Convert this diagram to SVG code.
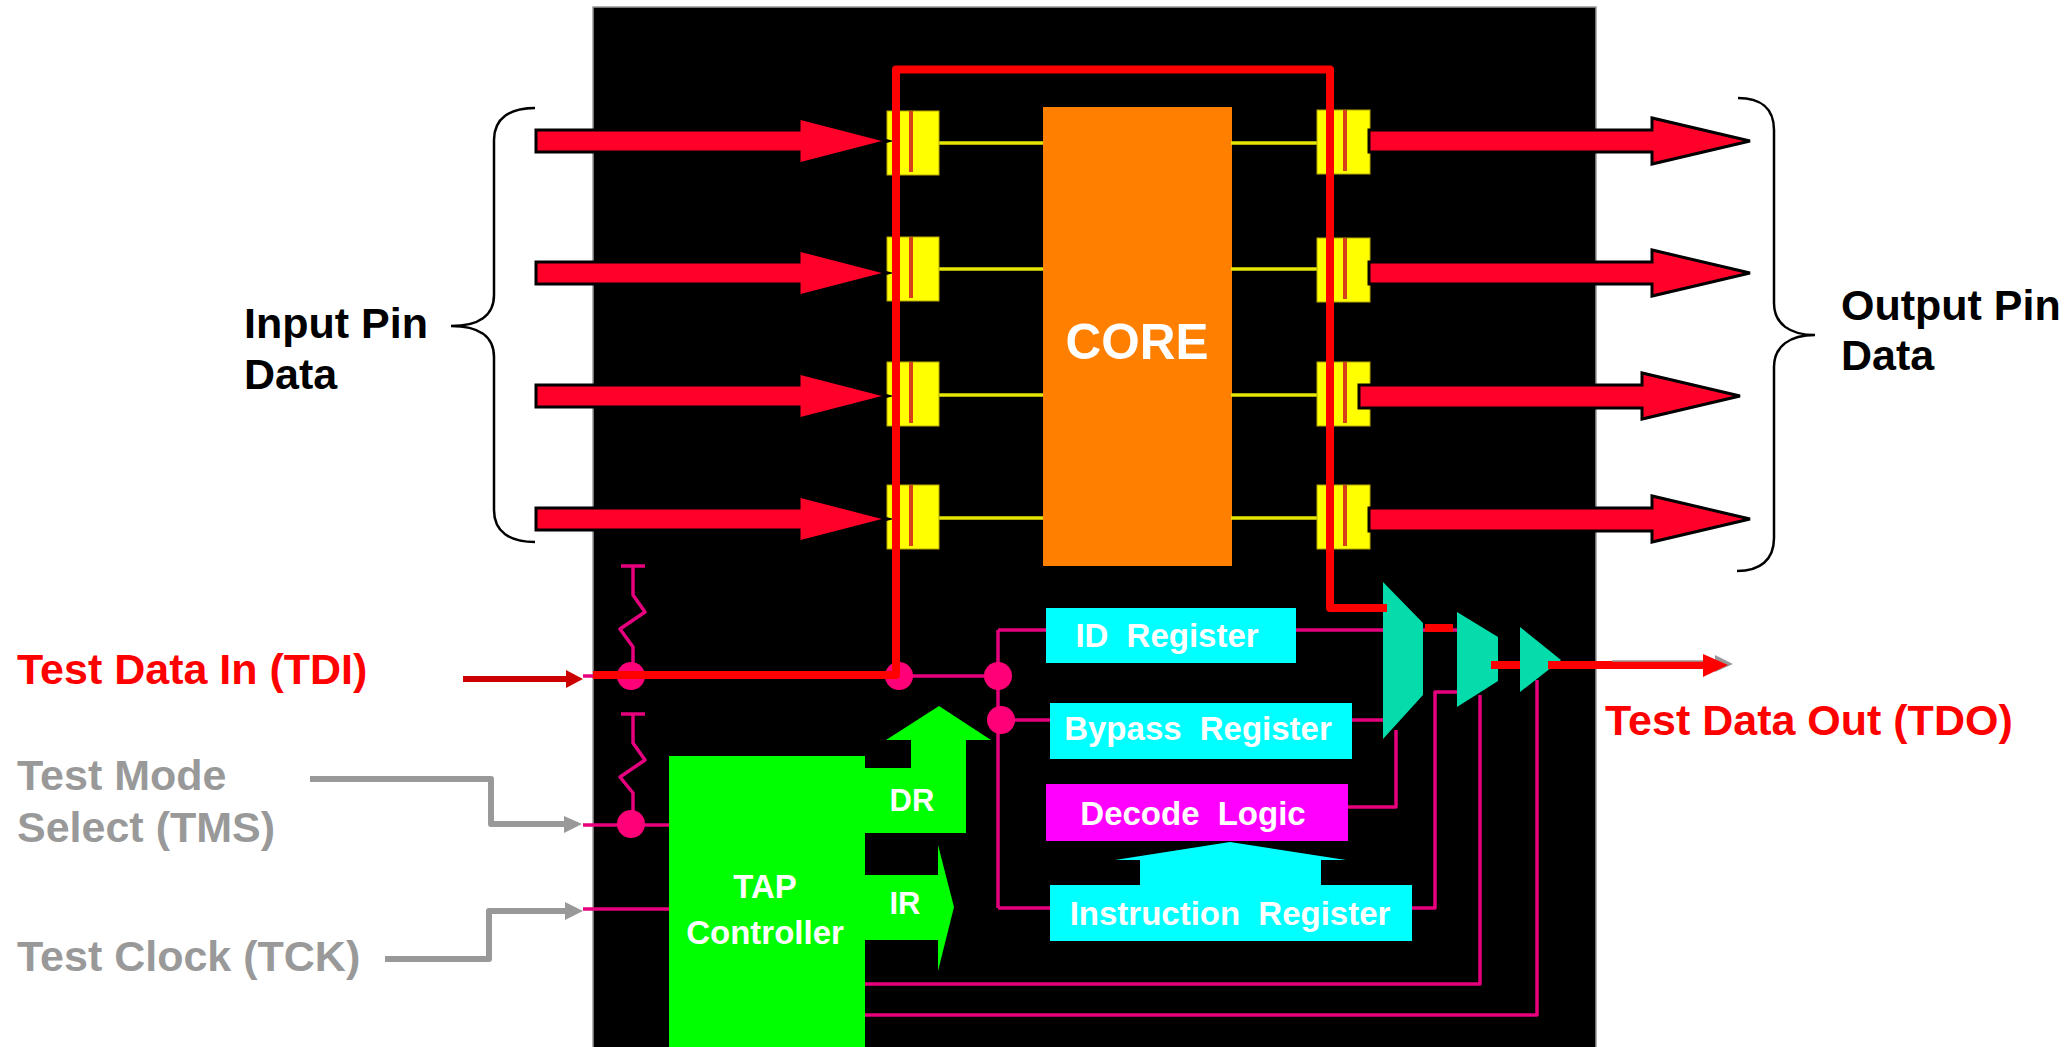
<svg xmlns="http://www.w3.org/2000/svg" width="2068" height="1047" viewBox="0 0 2068 1047">
<defs>
<style>
text{font-family:"Liberation Sans",Arial,sans-serif;font-weight:bold}
.lbl{font-size:43px}
.w{fill:#fff;text-anchor:middle}
.reg{font-size:33px;word-spacing:9px}
.pin{fill:#ff0;stroke:#b8a800;stroke-width:1}
.stripe{fill:#d8401c}
.y{stroke:#e6e600;stroke-width:3.5;fill:none}
.p{stroke:#e6007e;stroke-width:3.5;fill:none;stroke-linejoin:round}
.dot{fill:#ff0078}
.arr{fill:#ff0029;stroke:#000;stroke-width:3}
.scan{stroke:#f00;stroke-width:8;fill:none;stroke-linejoin:round}
.g{stroke:#999;stroke-width:6;fill:none;stroke-linejoin:round}
.br{stroke:#000;stroke-width:2.5;fill:none}
.cy{fill:#0ff}
.grn{fill:#0f0}
.mux{fill:#04dcac}
</style>
<g id="inArrow"><polygon class="arr" points="536,-11 799,-11 799,-23 888,0 799,23 799,11 536,11"/></g>
</defs>
<rect width="2068" height="1047" fill="#fff"/>
<rect id="chip" x="593" y="7" width="1003" height="1042" fill="#000" stroke="#999" stroke-width="1.5"/>

<g id="core"><rect x="1043" y="107" width="189" height="459" fill="#ff8000"/><text class="w" x="1137" y="359" font-size="49.500">CORE</text></g>

<g id="connectors">
<path class="y" d="M939 143H1043M939 269H1043M939 395H1043M939 518H1043M1231 143H1317M1231 269H1317M1231 395H1317M1231 518H1317"/>
<path class="p" d="M583 676H998M998 630V908M998 630H1046M1001 720H1050M998 908H1050M1296 630H1383M1352 720H1383M1423 630H1457M1491 665H1520M1348 807H1396V730M1412 908H1435V692H1457M865 984H1480V695M865 1015H1537V680"/>
<path class="p" d="M583 825H669M583 909H669"/>
<path class="p" d="M621 566H645M633 566V595L645 612L620 629L633 647V676"/>
<path class="p" d="M621 714H645M633 714V743L645 760L620 777L633 793V825"/>
</g>

<g id="pins">
<g id="pin-in-1"><rect class="pin" x="887" y="111" width="52" height="64"/><rect class="stripe" x="909" y="111" width="4" height="61"/></g>
<g id="pin-in-2"><rect class="pin" x="887" y="237" width="52" height="64"/><rect class="stripe" x="909" y="237" width="4" height="61"/></g>
<g id="pin-in-3"><rect class="pin" x="887" y="362" width="52" height="64"/><rect class="stripe" x="909" y="362" width="4" height="61"/></g>
<g id="pin-in-4"><rect class="pin" x="887" y="485" width="52" height="64"/><rect class="stripe" x="909" y="485" width="4" height="61"/></g>
<g id="pin-out-1"><rect class="pin" x="1317" y="110" width="53" height="64"/><rect class="stripe" x="1343" y="110" width="4" height="61"/></g>
<g id="pin-out-2"><rect class="pin" x="1317" y="238" width="53" height="64"/><rect class="stripe" x="1343" y="238" width="4" height="61"/></g>
<g id="pin-out-3"><rect class="pin" x="1317" y="362" width="53" height="64"/><rect class="stripe" x="1343" y="362" width="4" height="61"/></g>
<g id="pin-out-4"><rect class="pin" x="1317" y="485" width="53" height="64"/><rect class="stripe" x="1343" y="485" width="4" height="61"/></g>
</g>

<g id="junctions">
<circle class="dot" cx="631" cy="676" r="14"/><circle class="dot" cx="631" cy="824" r="14"/><circle class="dot" cx="899" cy="676" r="14"/><circle class="dot" cx="998" cy="676" r="14"/><circle class="dot" cx="1001" cy="720" r="14"/>
</g>

<g id="id-register"><rect class="cy" x="1046" y="608" width="250" height="55"/><text class="w reg" x="1167" y="647">ID Register</text></g>
<g id="bypass-register"><rect class="cy" x="1050" y="703" width="302" height="56"/><text class="w reg" x="1198" y="739.500">Bypass Register</text></g>
<g id="decode-logic"><rect x="1046" y="784" width="302" height="57" fill="#f0f"/><text class="w reg" x="1193" y="825">Decode Logic</text></g>
<g id="instruction-register"><polygon class="cy" points="1140,885 1140,860 1115,860 1230,842 1346,860 1321,860 1321,885"/><rect class="cy" x="1050" y="885" width="362" height="56"/><text class="w reg" x="1230" y="925">Instruction Register</text></g>

<g id="tap-controller">
<rect class="grn" x="669" y="756" width="196" height="291"/>
<polygon class="grn" points="865,768 911,768 911,740 886,740 939,706 991,740 966,740 966,833 865,833"/>
<polygon class="grn" points="865,875 938,875 938,845 954,907 938,971 938,940 865,940"/>
<text class="w" x="765" y="898" font-size="33">TAP</text><text class="w" x="765" y="944" font-size="33">Controller</text>
<text class="w" x="912" y="811" font-size="31">DR</text><text class="w" x="905" y="914" font-size="31">IR</text>
</g>

<g id="mux-1"><polygon class="mux" points="1383,582 1423,623 1423,695 1383,739"/></g>
<g id="mux-2"><polygon class="mux" points="1457,612 1498,637 1498,681 1457,707"/></g>
<g id="mux-3"><polygon class="mux" points="1520,627 1561,660 1520,692"/></g>

<g id="data-arrows">
<use href="#inArrow" y="141"/><use href="#inArrow" y="273"/><use href="#inArrow" y="396"/><use href="#inArrow" y="519"/>
<polygon class="arr" points="1369,130 1652,130 1652,118 1750,141 1652,164 1652,152 1369,152"/>
<polygon class="arr" points="1369,262 1652,262 1652,250 1750,273 1652,296 1652,284 1369,284"/>
<polygon class="arr" points="1359,385 1642,385 1642,373 1740,396 1642,419 1642,408 1359,408"/>
<polygon class="arr" points="1369,508 1652,508 1652,496 1750,519 1652,542 1652,531 1369,531"/>
</g>

<g id="scan-path">
<path class="scan" d="M593 675H896V69.500H1330V608H1387"/>
<path class="scan" d="M1425 628H1453M1491 665H1520M1548 665H1705"/>
<path d="M1612 661H1710" stroke="#999" stroke-width="1.500"/>
<polygon points="1715,655 1733,664 1715,672" fill="#999"/>
<polygon points="1703,654 1728,665 1703,677" fill="#f00"/>
</g>

<g id="input-arrows">
<path d="M463 679H568" stroke="#c00" stroke-width="6"/><polygon points="566,670 583,679 566,688" fill="#c00"/>
<path class="g" d="M310 779H491V824H566"/><polygon points="564,816 582,824 564,833" fill="#999"/>
<path class="g" d="M385 959H489V911H567"/><polygon points="565,902 583,911 565,920" fill="#999"/>
</g>

<g id="braces">
<path class="br" d="M535 108C510 108 494 118 494 140V295C494 316 478 326 451 326C478 326 494 336 494 357V510C494 532 510 542 535 542"/>
<path class="br" d="M1738 98C1760 98 1774 108 1774 130V303C1774 324 1790 335 1815 335C1790 335 1774 346 1774 367V538C1774 560 1760 571 1737 571"/>
</g>

<g id="labels">
<text class="lbl" x="244" y="338" fill="#000">Input Pin</text><text class="lbl" x="244" y="389" fill="#000">Data</text>
<text class="lbl" x="1841" y="320" fill="#000">Output Pin</text><text class="lbl" x="1841" y="370" fill="#000">Data</text>
<text class="lbl" x="17" y="684" fill="#f00">Test Data In (TDI)</text>
<text class="lbl" x="1605" y="735" fill="#f00">Test Data Out (TDO)</text>
<text class="lbl" x="17" y="790" fill="#999">Test Mode</text><text class="lbl" x="17" y="842" fill="#999">Select (TMS)</text>
<text class="lbl" x="17" y="971" fill="#999">Test Clock (TCK)</text>
</g>
</svg>
